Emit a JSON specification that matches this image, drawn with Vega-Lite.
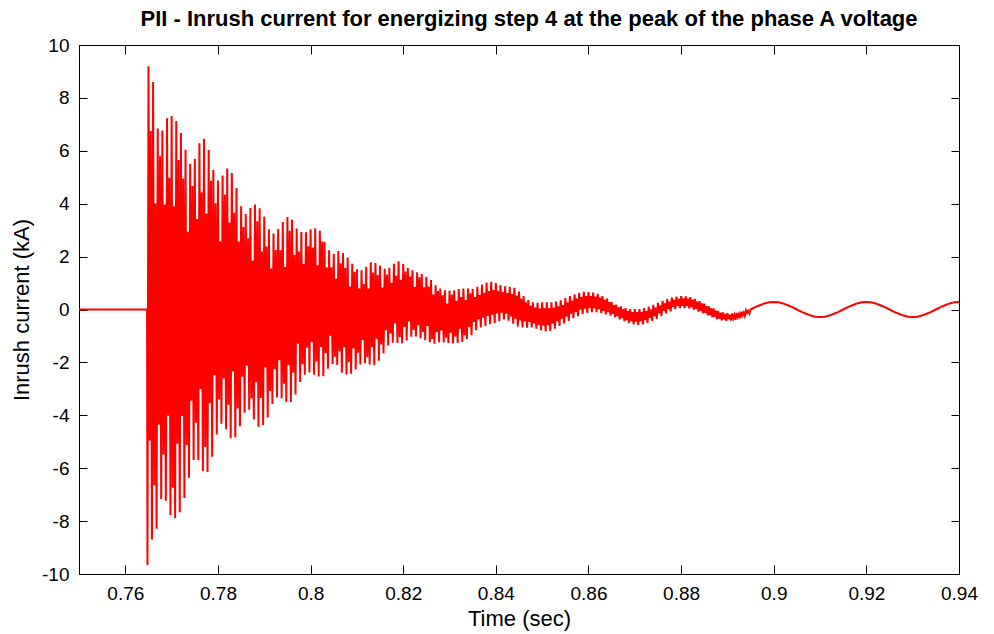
{
"$schema": "https://vega.github.io/schema/vega-lite/v6.json",
"width": 880, "height": 529,
"autosize": "none",
"padding": {"left": 79, "top": 45, "right": 35, "bottom": 60},
"background": "white",
"config": {"view": {"stroke": "black", "strokeWidth": 1}, "font": "Liberation Sans"},
"title": {"text": "PII - Inrush current for energizing step 4 at the peak of the phase A voltage", "font": "Liberation Sans", "fontSize": 22, "fontWeight": "bold", "color": "black", "offset": 5, "dx": 10},
"datasets": {"wave": [
{"t":0.75,"i":0},{"t":0.7647,"i":0},{"t":0.76478,"i":-9.66},
{"t":0.765,"i":9.2},{"t":0.76525,"i":-4.95},{"t":0.7655,"i":6.75},{"t":0.76575,"i":-8.7},
{"t":0.766,"i":8.6},{"t":0.76625,"i":-6.65},{"t":0.7665,"i":4.01},{"t":0.76675,"i":-8.29},
{"t":0.767,"i":6.84},{"t":0.76725,"i":-4.36},{"t":0.7675,"i":5.79},{"t":0.76775,"i":-7.16},
{"t":0.768,"i":6.77},{"t":0.76825,"i":-5.48},{"t":0.7685,"i":3.97},{"t":0.76875,"i":-7.23},
{"t":0.769,"i":7.23},{"t":0.76925,"i":-4.02},{"t":0.7695,"i":4.98},{"t":0.76975,"i":-7.77},
{"t":0.77,"i":7.32},{"t":0.77025,"i":-6.74},{"t":0.7705,"i":3.9},{"t":0.77075,"i":-7.88},
{"t":0.771,"i":7.13},{"t":0.77125,"i":-5.08},{"t":0.7715,"i":5.65},{"t":0.77175,"i":-7.67},
{"t":0.772,"i":6.67},{"t":0.77225,"i":-4.03},{"t":0.7725,"i":4.95},{"t":0.77275,"i":-7.13},
{"t":0.773,"i":6.04},{"t":0.77325,"i":-5.12},{"t":0.7735,"i":2.94},{"t":0.77375,"i":-6.36},
{"t":0.774,"i":5.51},{"t":0.77425,"i":-3.45},{"t":0.7745,"i":4.67},{"t":0.77475,"i":-5.69},
{"t":0.775,"i":5.7},{"t":0.77525,"i":-4.28},{"t":0.7755,"i":3.42},{"t":0.77575,"i":-5.7},
{"t":0.776,"i":6.29},{"t":0.77625,"i":-3.01},{"t":0.7765,"i":4.43},{"t":0.77675,"i":-6.11},
{"t":0.777,"i":6.46},{"t":0.77725,"i":-5.2},{"t":0.7775,"i":3.63},{"t":0.77775,"i":-6.14},
{"t":0.778,"i":6.03},{"t":0.77825,"i":-3.54},{"t":0.7785,"i":4.87},{"t":0.77875,"i":-5.57},
{"t":0.779,"i":5.27},{"t":0.77925,"i":-2.48},{"t":0.7795,"i":4.02},{"t":0.77975,"i":-4.73},
{"t":0.78,"i":4.88},{"t":0.78025,"i":-3.4},{"t":0.7805,"i":2.58},{"t":0.78075,"i":-4.32},
{"t":0.781,"i":5.07},{"t":0.78125,"i":-2.61},{"t":0.7815,"i":4.35},{"t":0.78175,"i":-4.53},
{"t":0.782,"i":5.33},{"t":0.78225,"i":-3.6},{"t":0.7825,"i":3.29},{"t":0.78275,"i":-4.87},
{"t":0.783,"i":5.16},{"t":0.78325,"i":-2.34},{"t":0.7835,"i":3.66},{"t":0.78375,"i":-4.84},
{"t":0.784,"i":4.59},{"t":0.78425,"i":-3.74},{"t":0.7845,"i":2.57},{"t":0.78475,"i":-4.41},
{"t":0.785,"i":3.9},{"t":0.78525,"i":-2.54},{"t":0.7855,"i":3.12},{"t":0.78575,"i":-3.9},
{"t":0.786,"i":3.61},{"t":0.78625,"i":-2.13},{"t":0.7865,"i":2.69},{"t":0.78675,"i":-3.79},
{"t":0.787,"i":3.84},{"t":0.78725,"i":-3.36},{"t":0.7875,"i":1.84},{"t":0.78775,"i":-4.16},
{"t":0.788,"i":3.97},{"t":0.78825,"i":-2.75},{"t":0.7885,"i":3.34},{"t":0.78875,"i":-4.43},
{"t":0.789,"i":3.83},{"t":0.78925,"i":-3.35},{"t":0.7895,"i":2.19},{"t":0.78975,"i":-4.37},
{"t":0.79,"i":3.52},{"t":0.79025,"i":-2.18},{"t":0.7905,"i":2.38},{"t":0.79075,"i":-4.08},
{"t":0.791,"i":3.03},{"t":0.79125,"i":-3.08},{"t":0.7915,"i":1.55},{"t":0.79175,"i":-3.57},
{"t":0.792,"i":2.87},{"t":0.79225,"i":-2.25},{"t":0.7925,"i":2.25},{"t":0.79275,"i":-3.33},
{"t":0.793,"i":3.04},{"t":0.79325,"i":-1.92},{"t":0.7935,"i":2.24},{"t":0.79375,"i":-3.36},
{"t":0.794,"i":3.31},{"t":0.79425,"i":-2.81},{"t":0.7945,"i":1.61},{"t":0.79475,"i":-3.49},
{"t":0.795,"i":3.5},{"t":0.79525,"i":-2.1},{"t":0.7955,"i":2.98},{"t":0.79575,"i":-3.5},
{"t":0.796,"i":3.39},{"t":0.79625,"i":-2.39},{"t":0.7965,"i":2.07},{"t":0.79675,"i":-3.21},
{"t":0.797,"i":3.06},{"t":0.79725,"i":-1.29},{"t":0.7975,"i":2.19},{"t":0.79775,"i":-2.74},
{"t":0.798,"i":2.93},{"t":0.79825,"i":-2.07},{"t":0.7985,"i":1.72},{"t":0.79875,"i":-2.47},
{"t":0.799,"i":2.92},{"t":0.79925,"i":-1.45},{"t":0.7995,"i":2.39},{"t":0.79975,"i":-2.38},
{"t":0.8,"i":3.03},{"t":0.80025,"i":-1.23},{"t":0.8005,"i":2.34},{"t":0.80075,"i":-2.47},
{"t":0.801,"i":3.07},{"t":0.80125,"i":-1.97},{"t":0.8015,"i":1.67},{"t":0.80175,"i":-2.53},
{"t":0.802,"i":2.98},{"t":0.80225,"i":-1.42},{"t":0.8025,"i":2.57},{"t":0.80275,"i":-2.52},
{"t":0.803,"i":2.56},{"t":0.80325,"i":-1.64},{"t":0.8035,"i":1.6},{"t":0.80375,"i":-2.24},
{"t":0.804,"i":2.24},{"t":0.80425,"i":-0.99},{"t":0.8045,"i":1.6},{"t":0.80475,"i":-2.06},
{"t":0.805,"i":2.1},{"t":0.80525,"i":-1.79},{"t":0.8055,"i":1.16},{"t":0.80575,"i":-2.1},
{"t":0.806,"i":2.21},{"t":0.80625,"i":-1.59},{"t":0.8065,"i":1.75},{"t":0.80675,"i":-2.39},
{"t":0.807,"i":2.14},{"t":0.80725,"i":-1.43},{"t":0.8075,"i":1.57},{"t":0.80775,"i":-2.46},
{"t":0.808,"i":1.97},{"t":0.80825,"i":-1.99},{"t":0.8085,"i":0.87},{"t":0.80875,"i":-2.43},
{"t":0.809,"i":1.73},{"t":0.80925,"i":-1.47},{"t":0.8095,"i":1.43},{"t":0.80975,"i":-2.27},
{"t":0.81,"i":1.52},{"t":0.81025,"i":-1.63},{"t":0.8105,"i":0.8},{"t":0.81075,"i":-2.08},
{"t":0.811,"i":1.48},{"t":0.81125,"i":-1.15},{"t":0.8115,"i":0.96},{"t":0.81175,"i":-2.02},
{"t":0.812,"i":1.62},{"t":0.81225,"i":-1.8},{"t":0.8125,"i":0.79},{"t":0.81275,"i":-2.08},
{"t":0.813,"i":1.79},{"t":0.81325,"i":-1.43},{"t":0.8135,"i":1.4},{"t":0.81375,"i":-2.11},
{"t":0.814,"i":1.76},{"t":0.81425,"i":-1.11},{"t":0.8145,"i":1.3},{"t":0.81475,"i":-1.94},
{"t":0.815,"i":1.65},{"t":0.81525,"i":-1.32},{"t":0.8155,"i":0.83},{"t":0.81575,"i":-1.65},
{"t":0.816,"i":1.54},{"t":0.81625,"i":-0.78},{"t":0.8165,"i":1.32},{"t":0.81675,"i":-1.36},
{"t":0.817,"i":1.58},{"t":0.81725,"i":-0.91},{"t":0.8175,"i":1.01},{"t":0.81775,"i":-1.26},
{"t":0.818,"i":1.73},{"t":0.81825,"i":-0.52},{"t":0.8185,"i":1.28},{"t":0.81875,"i":-1.27},
{"t":0.819,"i":1.82},{"t":0.81925,"i":-1.05},{"t":0.8195,"i":1.12},{"t":0.81975,"i":-1.28},
{"t":0.82,"i":1.73},{"t":0.82025,"i":-0.66},{"t":0.8205,"i":1.44},{"t":0.82075,"i":-1.17},
{"t":0.821,"i":1.57},{"t":0.82125,"i":-0.45},{"t":0.8215,"i":1.25},{"t":0.82175,"i":-1.03},
{"t":0.822,"i":1.48},{"t":0.82225,"i":-0.77},{"t":0.8225,"i":0.86},{"t":0.82275,"i":-1.02},
{"t":0.823,"i":1.41},{"t":0.82325,"i":-0.59},{"t":0.8235,"i":1.22},{"t":0.82375,"i":-1.09},
{"t":0.824,"i":1.34},{"t":0.82425,"i":-0.85},{"t":0.8245,"i":0.84},{"t":0.82475,"i":-1.16},
{"t":0.825,"i":1.24},{"t":0.82525,"i":-0.62},{"t":0.8255,"i":0.87},{"t":0.82575,"i":-1.24},
{"t":0.826,"i":1.11},{"t":0.82625,"i":-1.11},{"t":0.8265,"i":0.57},{"t":0.82675,"i":-1.29},
{"t":0.827,"i":0.92},{"t":0.82725,"i":-0.86},{"t":0.8275,"i":0.7},{"t":0.82775,"i":-1.24},
{"t":0.828,"i":0.79},{"t":0.82825,"i":-0.79},{"t":0.8285,"i":0.54},{"t":0.82875,"i":-1.25},
{"t":0.829,"i":0.73},{"t":0.82925,"i":-1.07},{"t":0.8295,"i":0.23},{"t":0.82975,"i":-1.27},
{"t":0.83,"i":0.72},{"t":0.83025,"i":-0.88},{"t":0.8305,"i":0.57},{"t":0.83075,"i":-1.28},
{"t":0.831,"i":0.73},{"t":0.83125,"i":-1.02},{"t":0.8315,"i":0.33},{"t":0.83175,"i":-1.27},
{"t":0.832,"i":0.77},{"t":0.83225,"i":-0.73},{"t":0.8325,"i":0.47},{"t":0.83275,"i":-1.23},
{"t":0.833,"i":0.79},{"t":0.83325,"i":-0.97},{"t":0.8335,"i":0.36},{"t":0.83375,"i":-1.11},
{"t":0.834,"i":0.79},{"t":0.83425,"i":-0.66},{"t":0.8345,"i":0.61},{"t":0.83475,"i":-0.97},
{"t":0.835,"i":0.78},{"t":0.83525,"i":-0.47},{"t":0.8355,"i":0.47},{"t":0.83575,"i":-0.78},
{"t":0.836,"i":0.86},{"t":0.83625,"i":-0.37},{"t":0.8365,"i":0.55},{"t":0.83675,"i":-0.68},
{"t":0.837,"i":0.94},{"t":0.83725,"i":-0.31},{"t":0.8375,"i":0.63},{"t":0.83775,"i":-0.62},
{"t":0.838,"i":1.02},{"t":0.83825,"i":-0.24},{"t":0.8385,"i":0.7},{"t":0.83875,"i":-0.56},
{"t":0.839,"i":1.05},{"t":0.83925,"i":-0.2},{"t":0.8395,"i":0.74},{"t":0.83975,"i":-0.51},
{"t":0.84,"i":1.0},{"t":0.84025,"i":-0.15},{"t":0.8405,"i":0.71},{"t":0.84075,"i":-0.44},
{"t":0.841,"i":0.92},{"t":0.84125,"i":-0.12},{"t":0.8415,"i":0.66},{"t":0.84175,"i":-0.38},
{"t":0.842,"i":0.88},{"t":0.84225,"i":-0.16},{"t":0.8425,"i":0.62},{"t":0.84275,"i":-0.42},
{"t":0.843,"i":0.86},{"t":0.84325,"i":-0.26},{"t":0.8435,"i":0.58},{"t":0.84375,"i":-0.54},
{"t":0.844,"i":0.82},{"t":0.84425,"i":-0.35},{"t":0.8445,"i":0.53},{"t":0.84475,"i":-0.64},
{"t":0.845,"i":0.68},{"t":0.84525,"i":-0.41},{"t":0.8455,"i":0.41},{"t":0.84575,"i":-0.68},
{"t":0.846,"i":0.51},{"t":0.84625,"i":-0.45},{"t":0.8465,"i":0.27},{"t":0.84675,"i":-0.69},
{"t":0.847,"i":0.36},{"t":0.84725,"i":-0.47},{"t":0.8475,"i":0.15},{"t":0.84775,"i":-0.68},
{"t":0.848,"i":0.27},{"t":0.84825,"i":-0.53},{"t":0.8485,"i":0.07},{"t":0.84875,"i":-0.73},
{"t":0.849,"i":0.25},{"t":0.84925,"i":-0.58},{"t":0.8495,"i":0.04},{"t":0.84975,"i":-0.79},
{"t":0.85,"i":0.27},{"t":0.85025,"i":-0.61},{"t":0.8505,"i":0.05},{"t":0.85075,"i":-0.83},
{"t":0.851,"i":0.27},{"t":0.85125,"i":-0.59},{"t":0.8515,"i":0.05},{"t":0.85175,"i":-0.81},
{"t":0.852,"i":0.27},{"t":0.85225,"i":-0.53},{"t":0.8525,"i":0.07},{"t":0.85275,"i":-0.73},
{"t":0.853,"i":0.3},{"t":0.85325,"i":-0.44},{"t":0.8535,"i":0.12},{"t":0.85375,"i":-0.62},
{"t":0.854,"i":0.35},{"t":0.85425,"i":-0.35},{"t":0.8545,"i":0.17},{"t":0.85475,"i":-0.53},
{"t":0.855,"i":0.43},{"t":0.85525,"i":-0.26},{"t":0.8555,"i":0.26},{"t":0.85575,"i":-0.43},
{"t":0.856,"i":0.51},{"t":0.85625,"i":-0.16},{"t":0.8565,"i":0.34},{"t":0.85675,"i":-0.33},
{"t":0.857,"i":0.57},{"t":0.85725,"i":-0.09},{"t":0.8575,"i":0.41},{"t":0.85775,"i":-0.25},
{"t":0.858,"i":0.63},{"t":0.85825,"i":-0.01},{"t":0.8585,"i":0.47},{"t":0.85875,"i":-0.17},
{"t":0.859,"i":0.67},{"t":0.85925,"i":0.03},{"t":0.8595,"i":0.51},{"t":0.85975,"i":-0.13},
{"t":0.86,"i":0.66},{"t":0.86025,"i":0.05},{"t":0.8605,"i":0.51},{"t":0.86075,"i":-0.1},
{"t":0.861,"i":0.64},{"t":0.86125,"i":0.05},{"t":0.8615,"i":0.49},{"t":0.86175,"i":-0.1},
{"t":0.862,"i":0.59},{"t":0.86225,"i":0.01},{"t":0.8625,"i":0.45},{"t":0.86275,"i":-0.13},
{"t":0.863,"i":0.51},{"t":0.86325,"i":-0.05},{"t":0.8635,"i":0.37},{"t":0.86375,"i":-0.19},
{"t":0.864,"i":0.41},{"t":0.86425,"i":-0.1},{"t":0.8645,"i":0.28},{"t":0.86475,"i":-0.23},
{"t":0.865,"i":0.29},{"t":0.86525,"i":-0.17},{"t":0.8655,"i":0.17},{"t":0.86575,"i":-0.29},
{"t":0.866,"i":0.19},{"t":0.86625,"i":-0.26},{"t":0.8665,"i":0.08},{"t":0.86675,"i":-0.37},
{"t":0.867,"i":0.12},{"t":0.86725,"i":-0.33},{"t":0.8675,"i":0.01},{"t":0.86775,"i":-0.44},
{"t":0.868,"i":0.05},{"t":0.86825,"i":-0.4},{"t":0.8685,"i":-0.06},{"t":0.86875,"i":-0.51},
{"t":0.869,"i":0.02},{"t":0.86925,"i":-0.44},{"t":0.8695,"i":-0.1},{"t":0.86975,"i":-0.56},
{"t":0.87,"i":0.02},{"t":0.87025,"i":-0.46},{"t":0.8705,"i":-0.1},{"t":0.87075,"i":-0.58},
{"t":0.871,"i":0.02},{"t":0.87125,"i":-0.44},{"t":0.8715,"i":-0.1},{"t":0.87175,"i":-0.56},
{"t":0.872,"i":0.05},{"t":0.87225,"i":-0.4},{"t":0.8725,"i":-0.06},{"t":0.87275,"i":-0.51},
{"t":0.873,"i":0.11},{"t":0.87325,"i":-0.32},{"t":0.8735,"i":0},{"t":0.87375,"i":-0.43},
{"t":0.874,"i":0.18},{"t":0.87425,"i":-0.25},{"t":0.8745,"i":0.07},{"t":0.87475,"i":-0.36},
{"t":0.875,"i":0.25},{"t":0.87525,"i":-0.15},{"t":0.8755,"i":0.15},{"t":0.87575,"i":-0.25},
{"t":0.876,"i":0.33},{"t":0.87625,"i":-0.05},{"t":0.8765,"i":0.23},{"t":0.87675,"i":-0.15},
{"t":0.877,"i":0.39},{"t":0.87725,"i":0.02},{"t":0.8775,"i":0.3},{"t":0.87775,"i":-0.07},
{"t":0.878,"i":0.45},{"t":0.87825,"i":0.1},{"t":0.8785,"i":0.36},{"t":0.87875,"i":0.01},
{"t":0.879,"i":0.49},{"t":0.87925,"i":0.14},{"t":0.8795,"i":0.4},{"t":0.87975,"i":0.05},
{"t":0.88,"i":0.51},{"t":0.88025,"i":0.14},{"t":0.8805,"i":0.42},{"t":0.88075,"i":0.05},
{"t":0.881,"i":0.5},{"t":0.88125,"i":0.13},{"t":0.8815,"i":0.41},{"t":0.88175,"i":0.04},
{"t":0.882,"i":0.47},{"t":0.88225,"i":0.09},{"t":0.8825,"i":0.37},{"t":0.88275,"i":-0.01},
{"t":0.883,"i":0.4},{"t":0.88325,"i":0.02},{"t":0.8835,"i":0.3},{"t":0.88375,"i":-0.08},
{"t":0.884,"i":0.32},{"t":0.88425,"i":-0.05},{"t":0.8845,"i":0.23},{"t":0.88475,"i":-0.14},
{"t":0.885,"i":0.22},{"t":0.88525,"i":-0.13},{"t":0.8855,"i":0.13},{"t":0.88575,"i":-0.22},
{"t":0.886,"i":0.12},{"t":0.88625,"i":-0.22},{"t":0.8865,"i":0.04},{"t":0.88675,"i":-0.3},
{"t":0.887,"i":0.04},{"t":0.88725,"i":-0.28},{"t":0.8875,"i":-0.04},{"t":0.88775,"i":-0.36},
{"t":0.888,"i":-0.05},{"t":0.88825,"i":-0.34},{"t":0.8885,"i":-0.12},{"t":0.88875,"i":-0.41},
{"t":0.889,"i":-0.11},{"t":0.88925,"i":-0.37},{"t":0.8895,"i":-0.17},{"t":0.88975,"i":-0.43},
{"t":0.89,"i":-0.14},{"t":0.89025,"i":-0.36},{"t":0.8905,"i":-0.2},{"t":0.89075,"i":-0.42},
{"t":0.891,"i":-0.15},{"t":0.89125,"i":-0.34},{"t":0.8915,"i":-0.2},{"t":0.89175,"i":-0.39},
{"t":0.892,"i":-0.13},{"t":0.89225,"i":-0.29},{"t":0.8925,"i":-0.17},{"t":0.89275,"i":-0.33},
{"t":0.893,"i":-0.08},{"t":0.89325,"i":-0.21},{"t":0.8935,"i":-0.11},{"t":0.89375,"i":-0.24},
{"t":0.894,"i":-0.03},{"t":0.89425,"i":-0.13},{"t":0.8945,"i":-0.05},{"t":0.89475,"i":-0.15},
{"t":0.895,"i":0},{"t":0.896,"i":0.09},{"t":0.897,"i":0.16},{"t":0.898,"i":0.23},{"t":0.899,"i":0.27},
{"t":0.9,"i":0.28},{"t":0.901,"i":0.27},{"t":0.902,"i":0.23},{"t":0.903,"i":0.16},{"t":0.904,"i":0.09},
{"t":0.905,"i":0},{"t":0.906,"i":-0.09},{"t":0.907,"i":-0.16},{"t":0.908,"i":-0.23},{"t":0.909,"i":-0.27},
{"t":0.91,"i":-0.28},{"t":0.911,"i":-0.27},{"t":0.912,"i":-0.23},{"t":0.913,"i":-0.16},{"t":0.914,"i":-0.09},
{"t":0.915,"i":0},{"t":0.916,"i":0.09},{"t":0.917,"i":0.16},{"t":0.918,"i":0.23},{"t":0.919,"i":0.27},
{"t":0.92,"i":0.28},{"t":0.921,"i":0.27},{"t":0.922,"i":0.23},{"t":0.923,"i":0.16},{"t":0.924,"i":0.09},
{"t":0.925,"i":0},{"t":0.926,"i":-0.09},{"t":0.927,"i":-0.16},{"t":0.928,"i":-0.23},{"t":0.929,"i":-0.27},
{"t":0.93,"i":-0.28},{"t":0.931,"i":-0.27},{"t":0.932,"i":-0.23},{"t":0.933,"i":-0.16},{"t":0.934,"i":-0.09},
{"t":0.935,"i":0},{"t":0.936,"i":0.09},{"t":0.937,"i":0.16},{"t":0.938,"i":0.23},{"t":0.939,"i":0.27},
{"t":0.94,"i":0.28}
]},
"data": {"name": "wave"},
"layer": [
{
"mark": {"type": "line", "color": "#ff0000", "strokeWidth": 2, "clip": true, "interpolate": "linear"},
"encoding": {
"x": {"field": "t", "type": "quantitative", "scale": {"domain": [0.75, 0.94], "nice": false, "zero": false},
 "axis": {"orient": "bottom", "values": [0.76,0.78,0.8,0.82,0.84,0.86,0.88,0.9,0.92,0.94], "labelExpr": "'' + datum.value", "labelFlush": false, "grid": false, "tickSize": -9, "tickColor": "black", "domainColor": "black", "labelColor": "black", "labelFont": "Liberation Sans", "labelFontSize": 19, "labelPadding": 19, "title": "Time (sec)", "titleFont": "Liberation Sans", "titleFontSize": 22, "titleFontWeight": "normal", "titleColor": "black", "titlePadding": 5}},
"y": {"field": "i", "type": "quantitative", "scale": {"domain": [-10, 10], "nice": false, "zero": false},
 "axis": {"orient": "left", "values": [-10,-8,-6,-4,-2,0,2,4,6,8,10], "labelExpr": "'' + datum.value", "grid": false, "tickSize": -8, "tickColor": "black", "domainColor": "black", "labelColor": "black", "labelFont": "Liberation Sans", "labelFontSize": 19, "labelPadding": 18, "title": "Inrush current (kA)", "titleFont": "Liberation Sans", "titleFontSize": 22, "titleFontWeight": "normal", "titleColor": "black", "titlePadding": 8}}
}
},
{
"mark": {"type": "line", "opacity": 0},
"encoding": {
"x": {"field": "t", "type": "quantitative", "axis": {"orient": "top", "values": [0.76,0.78,0.8,0.82,0.84,0.86,0.88,0.9,0.92,0.94], "labels": false, "title": null, "grid": false, "domain": false, "tickSize": -9, "tickColor": "black"}},
"y": {"field": "i", "type": "quantitative", "axis": {"orient": "right", "values": [-10,-8,-6,-4,-2,0,2,4,6,8,10], "labels": false, "title": null, "grid": false, "domain": false, "tickSize": -8, "tickColor": "black"}}
}
}
],
"resolve": {"axis": {"x": "independent", "y": "independent"}}
}
